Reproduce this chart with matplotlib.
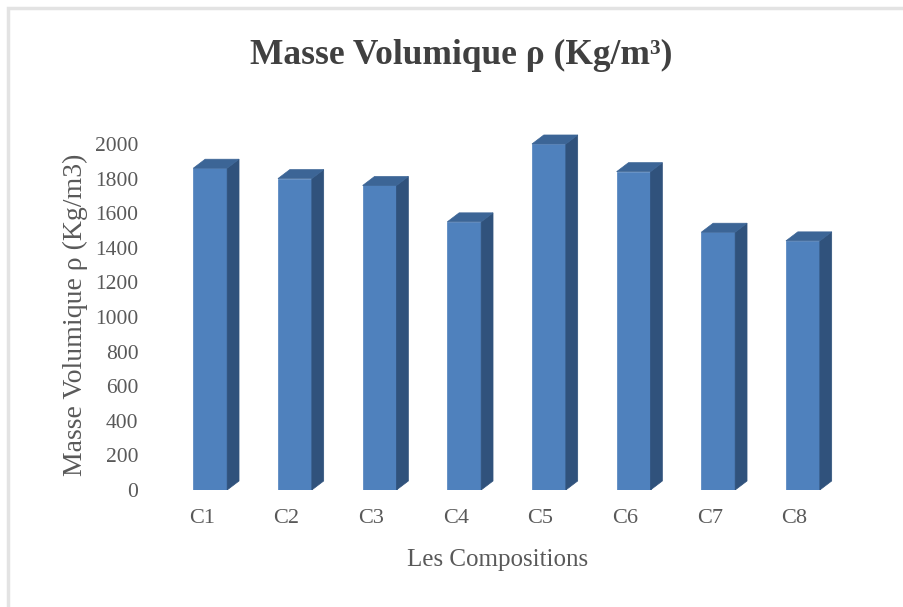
import matplotlib.pyplot as plt
from matplotlib.patches import Polygon, Rectangle

compositions = ["C1", "C2", "C3", "C4", "C5", "C6", "C7", "C8"]
densite = [1860, 1800, 1760, 1550, 2000, 1840, 1490, 1440]
yticks = [0, 200, 400, 600, 800, 1000, 1200, 1400, 1600, 1800, 2000]

FRONT = "#4f81bd"
SIDE = "#30527c"
TOP = "#3c6596"
TEXT = "#595959"

plt.rcParams["font.family"] = ["Liberation Serif", "DejaVu Serif"]

fig = plt.figure(figsize=(9.04, 6.07), dpi=100)
ax = fig.add_axes([0.167, 0.1928, 0.768, 0.5985])

# pseudo-3D columns: front face + side face + top face
width = 0.4
shift = 0.1
dx, dy = 0.14, 52
x = list(range(len(compositions)))
xb = [i + shift for i in x]
ax.bar(xb, densite, width=width, color=FRONT, edgecolor=FRONT, linewidth=0.5, zorder=3)
for xc, v in zip(xb, densite):
    x0, x1 = xc - width / 2, xc + width / 2
    side = [(x1, 0), (x1 + dx, dy), (x1 + dx, v + dy), (x1, v)]
    top = [(x0, v), (x0 + dx, v + dy), (x1 + dx, v + dy), (x1, v)]
    ax.add_patch(Polygon(side, closed=True, fc=SIDE, ec=SIDE, lw=0.5, zorder=3))
    ax.add_patch(Polygon(top, closed=True, fc=TOP, ec=TOP, lw=0.5, zorder=4))

ax.set_xlim(-0.6, 7.6)
ax.set_ylim(0, 2100)
ax.set_yticks(yticks)
ax.set_yticklabels([str(t) for t in yticks])
ax.set_xticks(x)
ax.set_xticklabels(compositions)
ax.tick_params(axis="y", length=0, pad=9, labelsize=15.5, labelcolor=TEXT)
ax.tick_params(axis="x", length=0, pad=14, labelsize=16, labelcolor=TEXT)
for s in ax.spines.values():
    s.set_visible(False)

fig.text(498 / 904, 1 - 560 / 607, "Les Compositions", ha="center", va="center",
         fontsize=18, color=TEXT)
fig.text(75 / 904, 1 - 315 / 607, "Masse Volumique ρ (Kg/m3)", ha="center", va="center",
         rotation=90, fontsize=20, color=TEXT)
fig.text(461 / 904, 1 - 55 / 607, "Masse Volumique ρ (Kg/m³)", ha="center", va="center",
         fontsize=25.5, fontweight="bold", color="#404040")

# light frame on the top and left edges
fig.add_artist(Rectangle((8 / 904, -0.1), 1.2, 1.1 - 8 / 607, transform=fig.transFigure,
                         fill=False, ec="#e3e3e3", lw=2.5))

fig.savefig("out.png", dpi=100)
